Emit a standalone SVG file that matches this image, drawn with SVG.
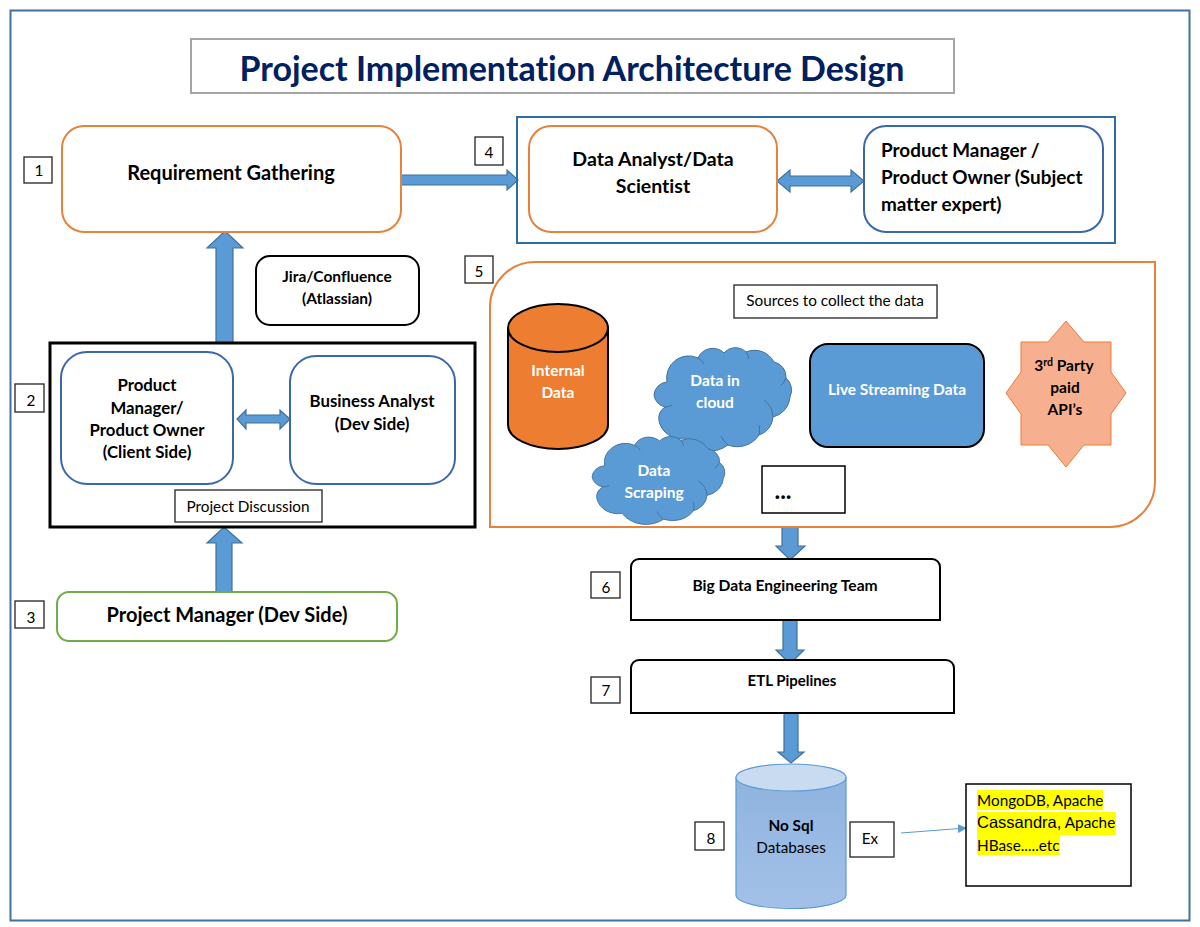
<svg xmlns="http://www.w3.org/2000/svg" width="1200" height="927" viewBox="0 0 1200 927">
<style>
text{font-family:"Lato","Open Sans","Liberation Sans",sans-serif;fill:#000;text-anchor:middle;font-variant-ligatures:none}
.b{font-weight:700}
.s{text-anchor:start}
.w{fill:#fff;font-weight:700;font-size:15.500px}
.lab{fill:#fff;stroke:#222;stroke-width:1.300}
.n{font-size:15.300px}
.ar{fill:#5b9bd5;stroke:#41719c;stroke-width:1.200}
.org{fill:#fff;stroke:#e5823c;stroke-width:2}
.blu{fill:#fff;stroke:#3a68ad;stroke-width:2}
.blk{fill:#fff;stroke:#000;stroke-width:2}
.cl{fill:#5b9bd5;stroke:#41719c;stroke-width:1}
.cr{fill:none;stroke:#41719c;stroke-width:1}
.arial{font-family:"Liberation Sans",sans-serif;font-size:16.500px}
</style>
<defs>
<linearGradient id="cy" x1="0" y1="0" x2="0" y2="1"><stop offset="0" stop-color="#8fb3df"/><stop offset="1" stop-color="#a3c1e8"/></linearGradient>
<marker id="tip" viewBox="0 0 10 10" refX="9" refY="5" markerWidth="9" markerHeight="9" markerUnits="userSpaceOnUse" orient="auto"><path d="M0 0L10 5L0 10Z" fill="#5b9bd5"/></marker>
<path id="cloud" d="M667 382A22 22 0 0 1 698 358A16 16 0 0 1 724 353A15 15 0 0 1 746 352A22 22 0 0 1 774 362A15 15 0 0 1 786 378A16 16 0 0 1 790 397A22 22 0 0 1 773 417A20 20 0 0 1 759 435A26 26 0 0 1 728 445A30 30 0 0 1 685 438A22 22 0 0 1 659 421A14 14 0 0 1 665 407A14 14 0 0 1 654 395A14 14 0 0 1 667 382Z"/>
<path id="crease" d="M773 417A22 22 0 0 0 764 400M759 435A20 20 0 0 0 759 425M728 445A24 24 0 0 1 721 436M665 407A14 14 0 0 0 672 405M698 358A18 18 0 0 1 704 364M746 352A16 16 0 0 1 749 359M786 378A14 14 0 0 1 781 385"/>
</defs>
<rect width="1200" height="927" fill="#fff"/>
<rect x="10.500" y="10.500" width="1179" height="910" fill="#fff" stroke="#41719c" stroke-width="2"/>
<g id="title"><rect x="191" y="39" width="763" height="54" fill="#fff" stroke="#a6a6a6" stroke-width="2"/><text class="b" x="572" y="80.500" font-size="34" style="fill:#002060">Project Implementation Architecture Design</text></g>

<g id="connectors">
<path class="ar" d="M216 343V248H207L225 231L243 248H233V343Z"/>
<path class="ar" d="M216 593V543H207L224 527L242 543H232V593Z"/>
<path class="ar" d="M401 175H507V170L518 180L507 190V185H401Z"/>
<path class="ar" d="M777 181L790 170V176H851V170L864 181L851 192V186H790V192Z"/>
<path class="ar" d="M237 419L246 410V415H280V410L290 419L280 429V423H246V429Z"/>
<path class="ar" d="M782 527H798V546H805L790 560L776 546H782Z"/>
<path class="ar" d="M783 620H797V650H804L790 664L776 650H783Z"/>
<path class="ar" d="M784 713H798V752H804L791 763L778 752H784Z"/>
<path d="M901 833L966 828" fill="none" stroke="#5b9bd5" stroke-width="1.200" marker-end="url(#tip)"/>
</g>

<g id="frame-4"><rect x="517" y="117" width="598" height="126" fill="none" stroke="#2f6ca3" stroke-width="2"/></g>
<g id="frame-2"><rect x="50" y="343" width="425" height="184" fill="none" stroke="#000" stroke-width="3"/></g>
<g id="frame-5"><path d="M490 527V307A45 45 0 0 1 535 262H1155V482A45 45 0 0 1 1110 527Z" fill="none" stroke="#e5823c" stroke-width="2"/></g>

<g id="n1"><rect class="lab" x="24" y="157" width="28" height="26"/><text class="n" x="39" y="176">1</text></g>
<g id="requirement"><rect class="org" x="62" y="126" width="339" height="106" rx="22"/><text class="b" x="231" y="180" font-size="20">Requirement Gathering</text></g>
<g id="n4"><rect class="lab" x="475" y="137" width="28" height="28"/><text class="n" x="489" y="158">4</text></g>
<g id="analyst"><rect class="org" x="529" y="126" width="248" height="106" rx="22"/><text class="b" x="653" y="166" font-size="19.500">Data Analyst/Data</text><text class="b" x="653" y="193" font-size="19.500">Scientist</text></g>
<g id="owner"><rect class="blu" x="864" y="126" width="239" height="106" rx="22"/><text class="b s" x="881" y="157" font-size="18.900">Product Manager /</text><text class="b s" x="881" y="184" font-size="18.900">Product Owner (Subject</text><text class="b s" x="881" y="211" font-size="18.900">matter expert)</text></g>
<g id="jira"><rect class="blk" x="256" y="256" width="163" height="69" rx="14"/><text class="b" x="337" y="282" font-size="15.500">Jira/Confluence</text><text class="b" x="337" y="304" font-size="15.500">(Atlassian)</text></g>
<g id="n2"><rect class="lab" x="15" y="384" width="29" height="28"/><text class="n" x="31" y="406">2</text></g>
<g id="client"><rect class="blu" x="61" y="352" width="172" height="132" rx="26"/><text class="b" x="147" y="391" font-size="16.800">Product</text><text class="b" x="147" y="413.500" font-size="16.800">Manager/</text><text class="b" x="147" y="436" font-size="16.800">Product Owner</text><text class="b" x="147" y="458" font-size="16.800">(Client Side)</text></g>
<g id="ba"><rect class="blu" x="290" y="356" width="165" height="128" rx="26"/><text class="b" x="372" y="407" font-size="16.800">Business Analyst</text><text class="b" x="372" y="430" font-size="16.800">(Dev Side)</text></g>
<g id="discussion"><rect class="lab" x="175" y="490" width="147" height="32"/><text class="n" x="248" y="512">Project Discussion</text></g>
<g id="n3"><rect class="lab" x="15" y="601" width="29" height="27"/><text class="n" x="31" y="623">3</text></g>
<g id="pm"><rect x="57" y="592" width="340" height="49" rx="12" fill="#fff" stroke="#70ad47" stroke-width="2"/><text class="b" x="227" y="622" font-size="20">Project Manager (Dev Side)</text></g>
<g id="n5"><rect class="lab" x="465" y="256" width="28" height="27"/><text class="n" x="479" y="277">5</text></g>
<g id="sources"><rect class="lab" x="734" y="285" width="203" height="33"/><text class="n" x="835" y="306">Sources to collect the data</text></g>
<g id="internal"><path d="M508 328V425A50 24 0 0 0 608 425V328" fill="#ed7d31" stroke="#000" stroke-width="2"/><ellipse cx="558" cy="328" rx="50" ry="24" fill="#ed7d31" stroke="#000" stroke-width="2"/><text class="w" x="558" y="376">Internal</text><text class="w" x="558" y="398">Data</text></g>
<g id="cloud-a"><use href="#cloud" class="cl"/><use href="#crease" class="cr"/><text class="w" x="715" y="386">Data in</text><text class="w" x="715" y="408">cloud</text></g>
<g id="cloud-b"><g transform="translate(-39 141) scale(.965 .85)"><use href="#cloud" class="cl"/><use href="#crease" class="cr"/></g><text class="w" x="654" y="476">Data</text><text class="w" x="654" y="498">Scraping</text></g>
<g id="live"><rect x="810" y="344" width="174" height="103" rx="18" fill="#5b9bd5" stroke="#000" stroke-width="2"/><text class="w" x="897" y="395">Live Streaming Data</text></g>
<g id="api"><polygon points="1066,321 1084,342 1111,342 1111,372 1126,393 1111,414 1111,445 1084,445 1066,467 1048,445 1021,445 1021,414 1006,393 1021,372 1021,342 1048,342" fill="#f6b08f" stroke="#ed7d31" stroke-width="1"/><text class="b" x="1064" y="371" font-size="15.500">3<tspan dy="-5" font-size="10.500">rd</tspan><tspan dy="5"> Party</tspan></text><text class="b" x="1065" y="393" font-size="15.500">paid</text><text class="b" x="1065" y="415" font-size="15.500">API’s</text></g>
<g id="more"><rect x="762" y="466" width="83" height="47" fill="#fff" stroke="#000" stroke-width="1.500"/><text class="b" x="783" y="499" font-size="24">...</text></g>
<g id="n6"><rect class="lab" x="591" y="572" width="29" height="26"/><text class="n" x="606" y="593">6</text></g>
<g id="bigdata"><path d="M639 559H932A8 8 0 0 1 940 567V620H631V567A8 8 0 0 1 639 559Z" class="blk"/><text class="b" x="785" y="591" font-size="15.600">Big Data Engineering Team</text></g>
<g id="n7"><rect class="lab" x="591" y="677" width="29" height="26"/><text class="n" x="606" y="696">7</text></g>
<g id="etl"><path d="M639 660H946A8 8 0 0 1 954 668V713H631V668A8 8 0 0 1 639 660Z" class="blk"/><text class="b" x="792" y="686" font-size="15">ETL Pipelines</text></g>
<g id="n8"><rect class="lab" x="695" y="822" width="29" height="28"/><text class="n" x="711" y="844">8</text></g>
<g id="nosql"><path d="M736 777V895A55 13.500 0 0 0 846 895V777" fill="url(#cy)" stroke="#5b9bd5" stroke-width="1.200"/><ellipse cx="791" cy="777.500" rx="55" ry="13.500" fill="#c8dbf0" stroke="#5b9bd5" stroke-width="1.200"/><text class="b n" x="791" y="831">No Sql</text><text class="n" x="791" y="853">Databases</text></g>
<g id="ex"><rect class="lab" x="850" y="822" width="44" height="35"/><text class="n" x="870" y="844">Ex</text></g>
<g id="examples"><rect x="966" y="784" width="165" height="102" fill="#fff" stroke="#000" stroke-width="1.500"/>
<rect x="977" y="790" width="126" height="20" fill="#ff0"/><rect x="977" y="812" width="139" height="23" fill="#ff0"/><rect x="977" y="835" width="83" height="20" fill="#ff0"/>
<text class="n s" x="977" y="806">MongoDB, Apache</text>
<text class="s" x="977" y="828" font-size="15.300"><tspan class="arial">Cassandra,</tspan> Apache</text>
<text class="n s" x="977" y="851">HBase.....etc</text></g>
</svg>
